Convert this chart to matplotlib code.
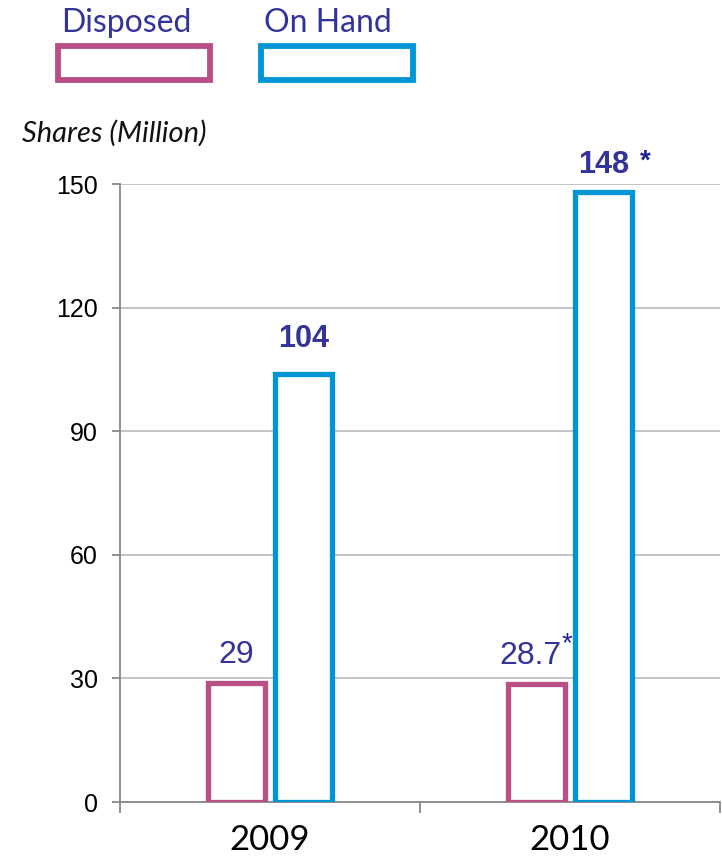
import matplotlib
matplotlib.use('Agg')
import matplotlib.pyplot as plt
from matplotlib.patches import Rectangle

years = ['2009', '2010']
disposed = [29, 28.7]
on_hand = [104, 148]
disposed_labels = ['29', '28.7']
on_hand_labels = ['104', '148']
starred_disposed = [False, True]
starred_on_hand = [False, True]
yticks = [0, 30, 60, 90, 120, 150]

pink = '#B94F84'
blue = '#0096D6'
label_blue = '#333399'
star_blue = '#1F1F99'
geo_font = ['Lato', 'DejaVu Sans']
arial = ['Liberation Sans', 'DejaVu Sans']

W, H = 722, 859
fig = plt.figure(figsize=(W / 100, H / 100), dpi=100)
ax = fig.add_axes([120 / W, (H - 802) / H, 600 / W, 618 / H])

x = list(range(len(years)))
bw = 0.19
off = 0.112
xd = [i - off for i in x]
xo = [i + off for i in x]
ax.bar(xd, disposed, width=bw, facecolor='white', edgecolor=pink, linewidth=3.8, zorder=3)
ax.bar(xo, on_hand, width=bw, facecolor='white', edgecolor=blue, linewidth=3.8, zorder=3)

ax.set_xlim(-0.5, 1.5)
ax.set_ylim(0, 150)
ax.set_yticks(yticks)
ax.set_yticklabels([str(v) for v in yticks], fontsize=18, family=arial)
ax.yaxis.grid(True, color='#BFBFBF', linewidth=1.3, zorder=0)
ax.set_axisbelow(True)

ax.set_xticks([-0.5, 0.5, 1.5])
ax.set_xticklabels([])
ax.set_xticks(x, minor=True)
ax.set_xticklabels(years, minor=True, fontsize=25, family=geo_font)
ax.tick_params(axis='x', which='minor', length=0, pad=16)
ax.tick_params(axis='x', which='major', length=8, color='#888888', width=1.3)
ax.tick_params(axis='y', length=6, color='#888888', width=1.3, pad=10)

for s in ['top', 'right']:
    ax.spines[s].set_visible(False)
ax.spines['left'].set_color('#888888')
ax.spines['left'].set_linewidth(1.3)
ax.spines['bottom'].set_color('#888888')
ax.spines['bottom'].set_linewidth(1.3)

# value labels, (dx, dy) in points; star offsets in points
disp_offsets = [(0, 9), (-4, 9)]
hand_offsets = [(0, 14), (0, 9)]
disp_star = (22, 19)
hand_star = (30, 13)

for xi, v, lab, st, (dx, dy) in zip(xd, disposed, disposed_labels, starred_disposed, disp_offsets):
    ax.annotate(lab, (xi, v), xytext=(dx, dy), textcoords='offset points',
                ha='center', va='bottom', fontsize=23, color=label_blue, family=arial)
    if st:
        ax.annotate('*', (xi, v), xytext=disp_star, textcoords='offset points',
                    ha='center', va='bottom', fontsize=20, color=star_blue, family=arial)

for xi, v, lab, st, (dx, dy) in zip(xo, on_hand, on_hand_labels, starred_on_hand, hand_offsets):
    ax.annotate(lab, (xi, v), xytext=(dx, dy), textcoords='offset points',
                ha='center', va='bottom', fontsize=22, fontweight='bold',
                color=label_blue, family=arial)
    if st:
        ax.annotate('*', (xi, v), xytext=hand_star, textcoords='offset points',
                    ha='center', va='bottom', fontsize=20, fontweight='bold',
                    color=star_blue, family=arial)

# legend drawn in figure pixels
for lx, col, name in [(58, pink, 'Disposed'), (261, blue, 'On Hand')]:
    fig.add_artist(Rectangle((lx / W, (H - 80) / H), 152 / W, 34 / H,
                             transform=fig.transFigure, facecolor='white',
                             edgecolor=col, linewidth=4.2))
    fig.text((lx + 3) / W, (H - 32) / H, name, fontsize=23, color=label_blue,
             family=geo_font, ha='left', va='baseline')

fig.text(22 / W, (H - 142) / H, 'Shares (Million)', fontsize=21, style='italic',
         family=geo_font, ha='left', va='baseline', color='#111111')

fig.savefig('out.png', dpi=100)
